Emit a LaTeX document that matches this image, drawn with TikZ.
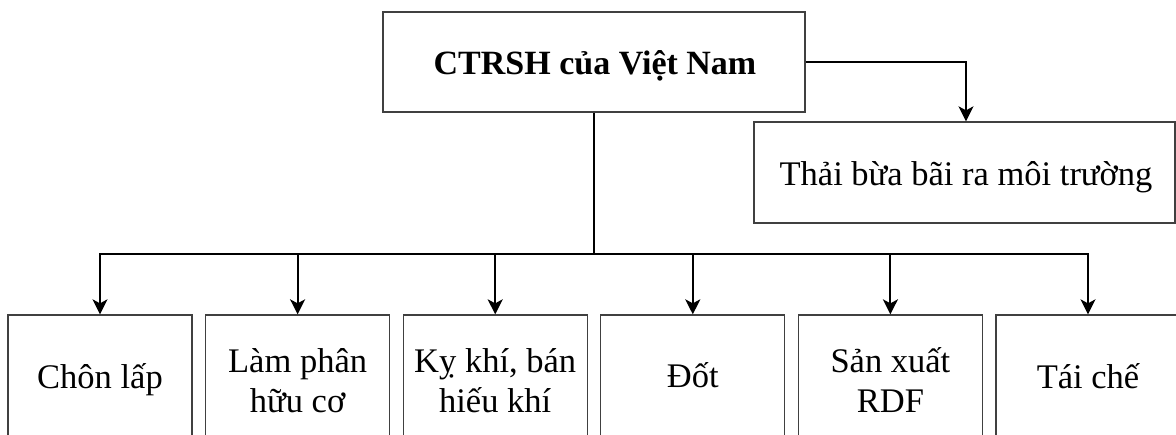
\documentclass[tikz,border=0pt]{standalone}
\usepackage{fontspec}
\setmainfont{Liberation Serif}
\usetikzlibrary{arrows.meta}
\begin{document}
\begin{tikzpicture}[x=1pt,y=-1pt,
  box/.style={draw=black!75, line width=1.3pt, inner sep=0pt, minimum width=184pt},
  lbl/.style={anchor=base, inner sep=0pt, font=\fontsize{34.5}{39}\selectfont},
  link/.style={line width=2pt, line join=miter},
  arr/.style={link, -{Stealth[length=15pt,width=15pt,inset=4pt]}}]
\useasboundingbox (0,0) rectangle (1176,435);
\clip (0,0) rectangle (1176,435);

% source box and the side branch
\node[box, minimum width=422pt, minimum height=100pt] (top) at (594,62) {};
\node[box, minimum width=421pt, minimum height=101pt] (thai) at (964.5,172.5) {};
\node[lbl, font=\bfseries\fontsize{34}{39}\selectfont] (ttop) at (595,75) {CTRSH của Việt Nam};
\node[lbl] (tthai) at (966,185.5) {Thải bừa bãi ra môi trường};

% treatment boxes (their lower edges run past the page)
\node[box, minimum height=124pt] (b1) at (100,377) {};
\node[box, minimum height=124pt] (b2) at (297.6,377) {};
\node[box, minimum height=124pt] (b3) at (495.2,377) {};
\node[box, minimum height=124pt] (b4) at (692.8,377) {};
\node[box, minimum height=124pt] (b5) at (890.4,377) {};
\node[box, minimum height=124pt] (b6) at (1088,377) {};

\node[lbl] (t1) at (100,389) {Chôn lấp};
\node[lbl] (t2a) at (297.6,373) {Làm phân};
\node[lbl] (t2b) at (297.6,412.5) {hữu cơ};
\node[lbl] (t3a) at (495.2,373) {Kỵ khí, bán};
\node[lbl] (t3b) at (495.2,412.5) {hiếu khí};
\node[lbl] (t4) at (692.8,388) {Đốt};
\node[lbl] (t5a) at (890.4,373) {Sản xuất};
\node[lbl] (t5b) at (890.4,413) {RDF};
\node[lbl] (t6) at (1088,389) {Tái chế};

% connectors
\coordinate (j) at (594,254);
\draw[link] (top.south) -- (j);
\draw[arr] (j) -| (b1.north);
\draw[arr] (j) -| (b6.north);
\foreach \b in {b2,b3,b4,b5}
  \draw[arr] (\b.north |- j) -- (\b.north);
\draw[arr] (top.east) -| ([xshift=1.5pt]thai.north);
\end{tikzpicture}
\end{document}
